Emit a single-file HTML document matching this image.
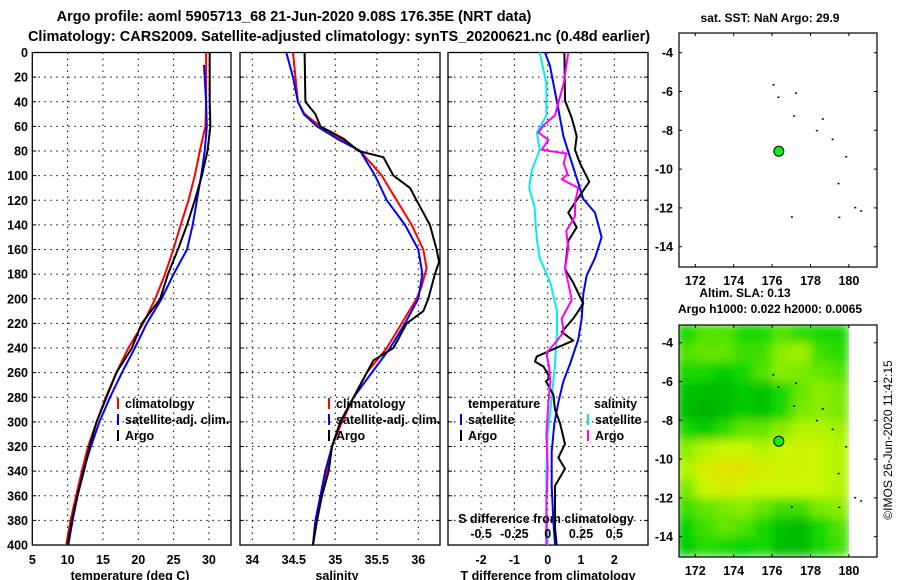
<!DOCTYPE html>
<html><head><meta charset="utf-8"><style>
body{margin:0;background:#fff;}
svg{display:block;font-family:"Liberation Sans",Arial,sans-serif;font-weight:bold;}
text{fill:#000;}
</style></head><body>
<svg id="c" width="900" height="580" viewBox="0 0 900 580" xmlns="http://www.w3.org/2000/svg">
<defs>
<filter id="blur" x="0" y="0" width="1" height="1"><feGaussianBlur stdDeviation="5" edgeMode="duplicate"/></filter>
<clipPath id="mapclip"><rect x="679" y="325" width="170" height="232"/></clipPath>
</defs>
<text x="294" y="21" font-size="14.5" text-anchor="middle">Argo profile: aoml 5905713_68 21-Jun-2020 9.08S 176.35E (NRT data)</text>
<text x="339" y="41" font-size="14.5" text-anchor="middle">Climatology: CARS2009. Satellite-adjusted climatology: synTS_20200621.nc (0.48d earlier)</text>
<text x="770" y="22" font-size="12" text-anchor="middle">sat. SST: NaN Argo: 29.9</text>
<text x="745" y="297" font-size="12" text-anchor="middle">Altim. SLA: 0.13</text>
<text x="770" y="313" font-size="12" text-anchor="middle">Argo h1000: 0.022 h2000: 0.0065</text>
<text transform="translate(892,440) rotate(-90)" font-size="12" font-weight="normal" text-anchor="middle">©IMOS 26-Jun-2020 11:42:15</text>
<g id="g"></g>
</svg>
<script>
// ---- profile data ----
const depthTicks = [0,20,40,60,80,100,120,140,160,180,200,220,240,260,280,300,320,340,360,380,400];
const tempDepth = [0,20,40,60,80,100,120,140,160,180,200,220,240,260,280,300,320,340,360,380,400];
const tempClim = [29.6,29.6,29.6,29.5,28.7,28.0,27.1,26.0,24.95,23.8,22.4,20.7,18.6,16.9,15.4,14.1,12.9,12.0,11.2,10.4,9.8];
const tempArgo = [30.1,30.1,30.1,30.2,29.8,29.0,28.0,26.9,25.6,24.2,23.1,20.5,19.1,16.9,15.5,14.1,13.1,12.3,11.4,10.6,10.0];
const tempSatDepth = [10,20,40,60,80,100,120,140,160,180,200,220,240,260,280,300,320,340,360,380,400];
const tempSat = [29.3,29.4,29.6,29.7,29.4,28.9,28.3,27.7,26.9,25.0,23.3,21.2,19.5,17.7,16.0,14.5,13.3,12.2,11.4,10.7,10.1];
const tempTicks = [5,10,15,20,25,30];

const salArgoDepth = [0,40,50,60,70,80,85,100,110,120,140,160,170,180,200,210,220,240,250,260,280,300,320,340,360,380,400];
const salArgo = [34.63,34.64,34.76,34.82,35.10,35.28,35.58,35.70,35.90,35.98,36.14,36.22,36.25,36.20,36.12,36.06,35.86,35.70,35.46,35.38,35.22,35.06,34.96,34.92,34.84,34.78,34.73];
const salClimDepth = [0,40,50,60,70,80,100,120,140,160,175,190,200,220,240,260,280,300,320,340,360,380,400];
const salClim = [34.49,34.55,34.63,34.82,35.06,35.30,35.56,35.74,35.92,36.06,36.10,36.04,35.98,35.80,35.62,35.38,35.22,35.08,34.96,34.90,34.82,34.78,34.73];
const salSatDepth = [0,20,40,50,60,70,80,100,120,140,160,180,200,220,240,260,280,300,320,340,360,380,400];
const salSat = [34.41,34.49,34.55,34.62,34.78,35.02,35.30,35.48,35.62,35.84,36.00,36.05,36.00,35.84,35.66,35.44,35.22,35.06,34.96,34.88,34.82,34.76,34.73];
const salTicks = [34,34.5,35,35.5,36];

const dTArgoDepth = [0,39,53,68,79,90,105,116,130,142,153,164,176,187,204,216,227,234,241,247,251,255,264,267,278,290,301,318,329,338,352,369,386,400];
const dTArgo = [0.5,0.52,0.72,0.87,0.82,0.97,1.25,0.97,0.62,0.87,0.62,0.57,0.52,0.77,1.07,0.77,0.42,0.77,0.17,-0.33,-0.38,-0.13,0.07,-0.05,0.17,0.22,0.37,0.52,0.32,0.52,0.22,0.22,0.22,0.27];
const dTSatDepth = [0,11,39,68,85,102,119,130,150,167,181,196,216,233,253,267,284,301,324,352,381,400];
const dTSat = [-0.08,0.07,0.27,0.47,0.67,0.87,1.07,1.42,1.62,1.42,1.17,1.07,1.02,0.92,0.67,0.47,0.32,0.2,0.12,0.12,0.17,0.22];
const dSSatDepth = [0,25,51,65,79,96,110,125,153,167,187,210,227,253,281,310,338,366,400];
const dSSat = [-0.06,-0.01,-0.01,-0.08,-0.06,-0.12,-0.14,-0.1,-0.08,-0.06,0.02,0.07,0.07,0.055,0.03,0,-0.01,-0.01,0];
const dSArgoDepth = [0,25,45,51,59,65,71,79,82,90,99,103,110,122,133,145,159,176,187,201,216,227,236,244,255,267,284,310,338,366,400];
const dSArgo = [0.155,0.12,0.07,0.055,-0.03,-0.07,0.005,-0.045,0.14,0.12,0.15,0.105,0.23,0.205,0.205,0.14,0.155,0.13,0.155,0.18,0.105,0.12,0.055,-0.01,0.01,0.02,0.005,-0.01,0,-0.01,-0.01];
const dTTicks = [-2,-1,0,1,2];
const dSTicks = [-0.5,-0.25,0,0.25,0.5];
const dSTickLabels = ["-0.5","-0.25","0","0.25","0.5"];

// ---- map data ----
const lonTicks = [172,174,176,178,180];
const latTicks = [-4,-6,-8,-10,-12,-14];
const slaLon = [171.5,172.5,173.5,174.5,175.5,176.5,177.5,178.5,179.5];
const slaLat = [-3.5,-4.5,-5.5,-6.5,-7.5,-8.5,-9.5,-10.5,-11.5,-12.5,-13.5,-14.5];
const slaRow0 = [0.3,0.45,0.45,0.3,0.3,0.45,0.35,0.3,0.3];
const slaRow1 = [0.45,0.5,0.5,0.4,0.4,0.6,0.65,0.4,0.35];
const slaRow2 = [0.3,0.3,0.2,0.3,0.45,0.6,0.55,0.5,0.45];
const slaRow3 = [0.15,0.1,0.1,0.2,0.15,0.3,0.5,0.6,0.55];
const slaRow4 = [0.1,0.05,0.1,0.2,0.15,0.3,0.55,0.6,0.55];
const slaRow5 = [0.3,0.2,0.35,0.5,0.5,0.6,0.7,0.7,0.65];
const slaRow6 = [0.6,0.7,0.75,0.75,0.7,0.75,0.8,0.75,0.7];
const slaRow7 = [0.7,0.85,0.95,0.95,0.85,0.8,0.8,0.75,0.7];
const slaRow8 = [0.55,0.75,0.85,0.8,0.75,0.75,0.75,0.75,0.7];
const slaRow9 = [0.4,0.5,0.55,0.6,0.5,0.4,0.4,0.55,0.6];
const slaRow10 = [0.25,0.4,0.5,0.45,0.3,0.15,0.1,0.3,0.45];
const slaRow11 = [0.2,0.35,0.3,0.25,0.3,0.1,0.1,0.3,0.4];
const slaRows = [slaRow0,slaRow1,slaRow2,slaRow3,slaRow4,slaRow5,slaRow6,slaRow7,slaRow8,slaRow9,slaRow10,slaRow11];
const islandLon = [176.07,176.33,177.25,177.15,178.64,178.33,179.15,179.86,179.46,177.03,179.5,180.33,180.64];
const islandLat = [-5.67,-6.31,-6.1,-7.28,-7.43,-8.03,-8.48,-9.38,-10.76,-12.48,-12.5,-12.0,-12.17];
const floatLon = [176.35];
const floatLat = [-9.08];

const NS = "http://www.w3.org/2000/svg";
const G = document.getElementById('g');
function el(tag, attrs, parent){const e=document.createElementNS(NS,tag);for(const k in attrs)e.setAttribute(k,attrs[k]);(parent||G).appendChild(e);return e;}

const yD = d => 52.5 + d*1.2313;
const xT = t => 32.3 + (t-5)*7.066;
const xS = s => 252.3 + (s-34)*83;
const xDT = t => 547.7 + t*33.3;
const xDS = s => xDT(s*4);
const lonX = l => 695.3 + (l-172)*19.2;
const latY1 = l => 52.7 + (-4-l)*19.4;
const latY2 = l => 342.7 + (-4-l)*19.4;

function panel(name,x0,x1,xScale,xTicks,xLabels,yLabels,title,titleX){
  const g=el('g',{});
  
  
  depthTicks.forEach(d=>{ if(d>0&&d<400){ const l=el('line',{x1:x0,x2:x1,y1:yD(d),y2:yD(d),stroke:'#000','stroke-width':1,'stroke-dasharray':'1.5,4.5'},g);
     
    el('line',{x1:x0,x2:x0+4,y1:yD(d),y2:yD(d),stroke:'#000'},g); el('line',{x1:x1-4,x2:x1,y1:yD(d),y2:yD(d),stroke:'#000'},g);} });
  xTicks.forEach((t,i)=>{ const x=xScale(t); if(x>x0+1&&x<x1-1){ const l=el('line',{x1:x,x2:x,y1:yD(0),y2:yD(400),stroke:'#000','stroke-width':1,'stroke-dasharray':'1.5,4.5'},g);
     }
    const tx=el('text',{x:x,y:564,'font-size':12.5,'text-anchor':'middle'},g); tx.textContent=xLabels[i];
      });
  if(yLabels){ depthTicks.forEach(d=>{ const tx=el('text',{x:28,y:yD(d)+4.5,'font-size':12.5,'text-anchor':'end'},g); tx.textContent=d;
      }); }
  const fr=el('rect',{x:x0,y:yD(0),width:x1-x0,height:yD(400)-yD(0),fill:'none',stroke:'#000','stroke-width':1.3},g);
   
  const at=el('text',{x:titleX,y:580,'font-size':12.5,'text-anchor':'middle'},g); at.textContent=title;
   
  return g;
}
function line(depths,vals,xs,color,name,w){
  const pts=depths.map((d,i)=>xs(vals[i]).toFixed(1)+','+yD(d).toFixed(1)).join(' ');
  const p=el('polyline',{points:pts,fill:'none',stroke:color,'stroke-width':w||2,'stroke-linejoin':'round'});
  
  
}
function legend(x,y,color,label,name){
  const b=el('line',{x1:x,x2:x,y1:y-10,y2:y+1,stroke:color,'stroke-width':2});
  const t=el('text',{x:x+7,y:y,'font-size':12.5}); t.textContent=label;
  
  
}

// Panel 1: temperature
panel('temperature-panel',32.3,231,xT,tempTicks,tempTicks.map(String),true,'temperature (deg C)',130);
line(tempDepth,tempClim,xT,'#f00','temp-climatology-line');
line(tempSatDepth,tempSat,xT,'#00f','temp-satellite-line');
line(tempDepth,tempArgo,xT,'#000','temp-argo-line');
legend(118,408,'#f00','climatology','legend-climatology');
legend(118,424,'#00f','satellite-adj. clim.','legend-satellite-adj');
legend(118,440,'#000','Argo','legend-argo');

// Panel 2: salinity
panel('salinity-panel',240,440,xS,salTicks,salTicks.map(String),false,'salinity',337);
line(salClimDepth,salClim,xS,'#f00','sal-climatology-line');
line(salSatDepth,salSat,xS,'#00f','sal-satellite-line');
line(salArgoDepth,salArgo,xS,'#000','sal-argo-line');
legend(329,408,'#f00','climatology','legend-climatology-2');
legend(329,424,'#00f','satellite-adj. clim.','legend-satellite-adj-2');
legend(329,440,'#000','Argo','legend-argo-2');

// Panel 3: differences
panel('difference-panel',448,648,xDT,dTTicks,dTTicks.map(String),false,'T difference from climatology',548);
line(dSSatDepth,dSSat,xDS,'#0ee','dS-satellite-line');
line(dTSatDepth,dTSat,xDT,'#00f','dT-satellite-line');
line(dTArgoDepth,dTArgo,xDT,'#000','dT-argo-line');
line(dSArgoDepth,dSArgo,xDS,'#f0f','dS-argo-line');
{ const t=el('text',{x:468,y:408,'font-size':12.5}); t.textContent='temperature';
   
  const s=el('text',{x:594,y:408,'font-size':12.5}); s.textContent='salinity';
    }
legend(461,424,'#00f','satellite','legend-dT-satellite');
legend(461,440,'#000','Argo','legend-dT-argo');
legend(588,424,'#0ee','satellite','legend-dS-satellite');
legend(588,440,'#f0f','Argo','legend-dS-argo');
{ const t=el('text',{x:546,y:523,'font-size':12.5,'text-anchor':'middle'}); t.textContent='S difference from climatology';
    }
dSTicks.forEach((s,i)=>{ const t=el('text',{x:xDS(s),y:538,'font-size':12.5,'text-anchor':'middle'}); t.textContent=dSTickLabels[i];
    });

// maps
function slaColor(v){
  const stops=[[0,[0,170,0]],[0.25,[0,212,0]],[0.5,[100,230,0]],[0.75,[200,248,0]],[1,[232,222,0]]];
  for(let i=1;i<stops.length;i++){ if(v<=stops[i][0]){ const a=stops[i-1],b=stops[i],f=(v-a[0])/(b[0]-a[0]);
    return 'rgb('+a[1].map((c,k)=>Math.round(c+(b[1][k]-c)*f)).join(',')+')'; } }
  return 'rgb(232,222,0)';
}
function mapFrame(name,y0,y1,latY,withField){
  const g=el('g',{});
  
  
  if(withField){
    const clip=el('g',{'clip-path':'url(#mapclip)'},g);
    const field=el('g',{filter:'url(#blur)'},clip);
    
    
    slaRows.forEach((row,r)=>row.forEach((v,c)=>{
      const xa=lonX(slaLon[c]-0.5), xb=lonX(slaLon[c]+0.5);
      const ya=latY(slaLat[r]+0.5), yb=latY(slaLat[r]-0.5);
      const cell=el('rect',{x:xa,y:ya,width:xb-xa+0.5,height:yb-ya+0.5,fill:slaColor(v)},field);
      
      
    }));
  }
  islandLon.forEach((lo,i)=>{ const d=el('rect',{x:lonX(lo)-1,y:latY(islandLat[i])-1,width:2,height:1.5,fill:'#000'},g);
      });
  floatLon.forEach((lo,i)=>{ const c=el('circle',{cx:lonX(lo),cy:latY(floatLat[i]),r:5,fill:'#1e1',stroke:'#000','stroke-width':1},g);
      });
  el('rect',{x:679,y:y0,width:198,height:y1-y0,fill:'none',stroke:'#000','stroke-width':1.2},g);
  lonTicks.forEach(l=>{ const x=lonX(l); el('line',{x1:x,x2:x,y1:y0,y2:y0+3,stroke:'#000'},g); el('line',{x1:x,x2:x,y1:y1,y2:y1-3,stroke:'#000'},g);
    const t=el('text',{x:x,y:y1+18,'font-size':12.5,'text-anchor':'middle'},g); t.textContent=l;
      });
  latTicks.forEach(l=>{ const y=latY(l); el('line',{x1:679,x2:682,y1:y,y2:y,stroke:'#000'},g); el('line',{x1:877,x2:874,y1:y,y2:y,stroke:'#000'},g);
    const t=el('text',{x:673,y:y+4.5,'font-size':12.5,'text-anchor':'end'},g); t.textContent=l;
      });
}
mapFrame('sst-map',33,267,latY1,false);
mapFrame('sla-map',325,557,latY2,true);
</script>
</body></html>
